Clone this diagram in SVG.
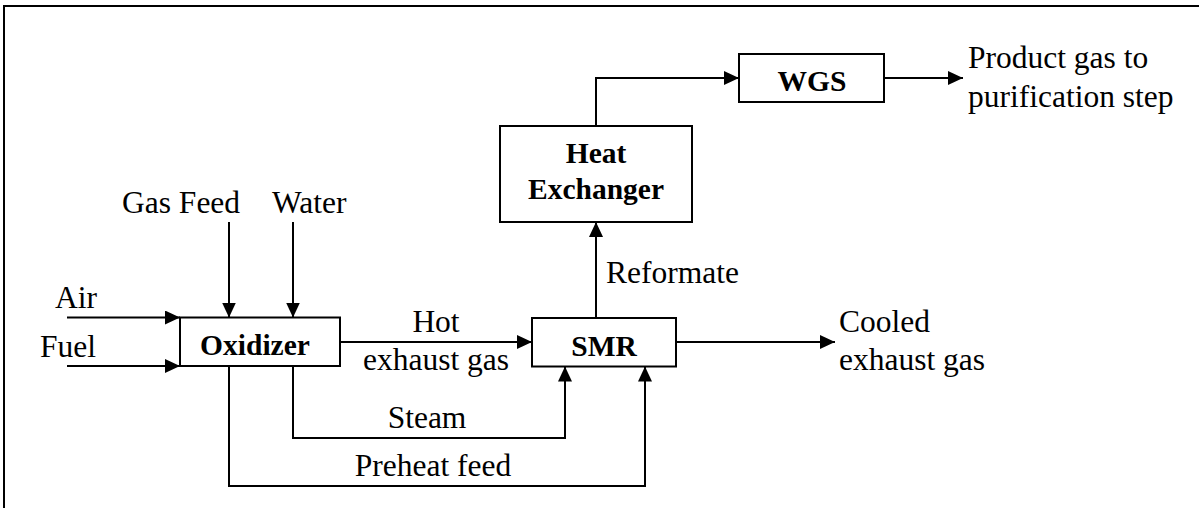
<svg xmlns="http://www.w3.org/2000/svg" width="1199" height="508" viewBox="0 0 1199 508">
  <style>
    .frame { fill: none; stroke: #000; stroke-width: 2; }
    .box { fill: #fff; stroke: #000; stroke-width: 2; }
    .flow { fill: none; stroke: #000; stroke-width: 2; }
    .lbl { font-family: "Liberation Serif", "Times New Roman", serif; font-size: 31.5px; fill: #000; }
    .name { font-family: "Liberation Serif", "Times New Roman", serif; font-size: 29.5px; font-weight: bold; fill: #000; text-anchor: middle; }
    .mid { text-anchor: middle; }
  </style>
  <defs>
    <marker id="arrow" markerUnits="userSpaceOnUse" markerWidth="15" markerHeight="14" refX="15" refY="7" orient="auto">
      <path d="M0,0 L15,7 L0,14 z" fill="#000"/>
    </marker>
  </defs>

  <rect width="1199" height="508" fill="#fff"/>
  <!-- outer frame (right and bottom edges fall outside the page) -->
  <rect class="frame" x="4" y="6" width="1210" height="520"/>

  <!-- process streams -->
  <g id="connectors">
    <path class="flow" d="M67,317.5 H180" marker-end="url(#arrow)"/>
    <path class="flow" d="M67,366 H180" marker-end="url(#arrow)"/>
    <path class="flow" d="M229,222 V317.5" marker-end="url(#arrow)"/>
    <path class="flow" d="M293,222 V317.5" marker-end="url(#arrow)"/>
    <path class="flow" d="M340,342 H532" marker-end="url(#arrow)"/>
    <path class="flow" d="M293,366 V438 H565 V366.5" marker-end="url(#arrow)"/>
    <path class="flow" d="M229,366 V486 H645 V366.5" marker-end="url(#arrow)"/>
    <path class="flow" d="M596,318 V222" marker-end="url(#arrow)"/>
    <path class="flow" d="M596,126 V78 H739" marker-end="url(#arrow)"/>
    <path class="flow" d="M884,78 H963" marker-end="url(#arrow)"/>
    <path class="flow" d="M676,342 H835" marker-end="url(#arrow)"/>
  </g>

  <!-- stream labels -->
  <g id="labels">
    <text class="lbl" x="55" y="308">Air</text>
    <text class="lbl" x="40" y="357">Fuel</text>
    <text class="lbl" x="122" y="213">Gas Feed</text>
    <text class="lbl" x="272" y="213">Water</text>
    <text class="lbl mid" x="436" y="332">Hot</text>
    <text class="lbl mid" x="436" y="370">exhaust gas</text>
    <text class="lbl mid" x="427" y="428">Steam</text>
    <text class="lbl mid" x="433" y="476">Preheat feed</text>
    <text class="lbl" x="606" y="283">Reformate</text>
    <text class="lbl" x="839" y="332">Cooled</text>
    <text class="lbl" x="839" y="370">exhaust gas</text>
    <text class="lbl" x="968" y="68">Product gas to</text>
    <text class="lbl" x="968" y="107">purification step</text>
  </g>

  <!-- unit operations -->
  <g id="oxidizer">
    <rect class="box" x="180" y="317.5" width="160" height="48.5"/>
    <text class="name" x="255" y="355">Oxidizer</text>
  </g>
  <g id="smr">
    <rect class="box" x="532" y="318" width="144" height="48.5"/>
    <text class="name" x="604" y="356">SMR</text>
  </g>
  <g id="heat-exchanger">
    <rect class="box" x="500" y="126" width="192" height="96"/>
    <text class="name" x="596" y="163">Heat</text>
    <text class="name" x="596" y="199">Exchanger</text>
  </g>
  <g id="wgs">
    <rect class="box" x="739" y="54" width="145" height="48"/>
    <text class="name" x="812" y="91">WGS</text>
  </g>
</svg>
